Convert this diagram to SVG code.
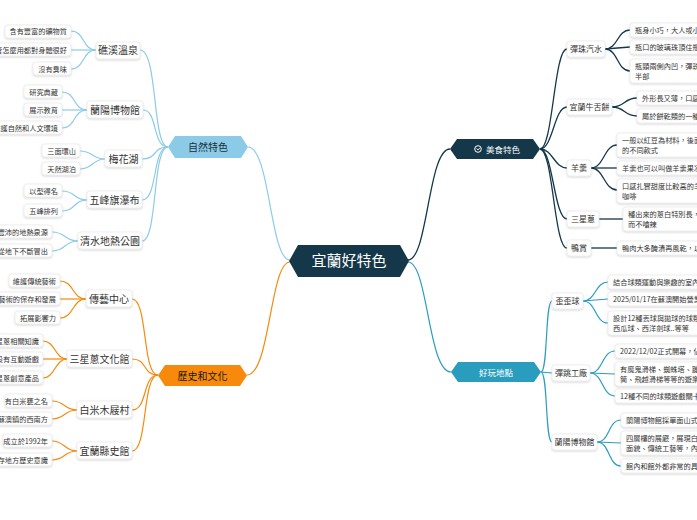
<svg xmlns="http://www.w3.org/2000/svg" width="697" height="520" viewBox="0 0 697 520">
<defs>
<style>
text{font-family:"Noto Sans CJK TC","Noto Sans CJK SC",sans-serif;}
.n{fill:#fff;stroke:#e4e4e4;stroke-width:0.6;filter:url(#sh)}
.l{font-size:7.2px;fill:#333}
.m{font-size:10px;fill:#333}
.s{font-size:8px;fill:#333}
.cb{fill:none;stroke:#8ccbe8;stroke-width:1.2}
.co{fill:none;stroke:#f7890c;stroke-width:1.2}
.cn{fill:none;stroke:#14374a;stroke-width:1.3}
.ct{fill:none;stroke:#2a9dbf;stroke-width:1.2}
</style>
<filter id="sh" x="-20%" y="-30%" width="140%" height="170%"><feDropShadow dx="0" dy="1" stdDeviation="1" flood-opacity="0.18"/></filter>
</defs>
<rect width="697" height="520" fill="#fff"/>
<g id="connectors">
<path class="cb" d="M290,260 C270,260 270,147 248,147"/>
<path class="co" d="M290,262 C270,262 270,375 247,375"/>
<path class="cn" d="M408,260 C428,260 428,149 450,149"/>
<path class="ct" d="M408,262 C428,262 428,372 451,372"/>
<g class="cb">
<path d="M168,147 C152,147 158,50 140,50"/><path d="M168,147 C152,147 158,110 143,110"/><path d="M168,147 C152,147 158,159 142,159"/><path d="M168,147 C152,147 158,200 142,200"/><path d="M168,147 C152,147 158,241 142,241"/>
<path d="M96,50 C82,50 85,31 71,31"/><path d="M96,50 L71,50"/><path d="M96,50 C82,50 85,69 71,69"/>
<path d="M87,110 C73,110 76,92 62,92"/><path d="M87,110 L62,110"/><path d="M87,110 C73,110 76,128 62,128"/>
<path d="M105,159 C92,159 93,151 80,151"/><path d="M105,159 C92,159 93,169 80,169"/>
<path d="M87,200 C73,200 76,191 62,191"/><path d="M87,200 C73,200 76,211 62,211"/>
<path d="M78,241 C64,241 66,232 52,232"/><path d="M78,241 C64,241 66,251 52,251"/>
</g>
<g class="co">
<path d="M158,375 C142,375 148,299 132,299"/><path d="M158,375 C142,375 148,359 132,359"/><path d="M158,375 C142,375 148,410 132,410"/><path d="M158,375 C142,375 148,451 132,451"/>
<path d="M86,299 C72,299 74,281 60,281"/><path d="M86,299 L60,299"/><path d="M86,299 C72,299 74,318 60,318"/>
<path d="M67,359 C55,359 55,341 43,341"/><path d="M67,359 L43,359"/><path d="M67,359 C55,359 55,378 43,378"/>
<path d="M77,410 C64,410 65,401 52,401"/><path d="M77,410 C64,410 65,419 52,419"/>
<path d="M77,451 C64,451 65,441 52,441"/><path d="M77,451 C64,451 65,460 52,460"/>
</g>
<g class="cn">
<path d="M540,149 C553,149 554,49 567,49"/><path d="M540,149 C553,149 554,107 567,107"/><path d="M540,149 C553,149 554,168 567,168"/><path d="M540,149 C553,149 554,219 567,219"/><path d="M540,149 C553,149 554,248 567,248"/>
<path d="M605,49 C618,49 617,30 630,30"/><path d="M605,49 L630,47"/><path d="M605,49 C618,49 617,71 630,71"/>
<path d="M612,107 C625,107 624,98 637,98"/><path d="M612,107 C625,107 624,116 637,116"/>
<path d="M591,168 C604,168 604,145 617,145"/><path d="M591,168 L617,168"/><path d="M591,168 C604,168 604,190 617,190"/>
<path d="M599,219 L623,219"/><path d="M591,248 L617,248"/>
</g>
<g class="ct">
<path d="M541,372 C548,372 545,301 552,301"/><path d="M541,372 L552,373"/><path d="M541,372 C548,372 545,442 552,442"/>
<path d="M583,301 C596,301 595,282 608,282"/><path d="M583,301 L608,299"/><path d="M583,301 C596,301 595,323 608,323"/>
<path d="M590,373 C603,373 602,351 615,351"/><path d="M590,373 L615,374"/><path d="M590,373 C603,373 602,396 615,396"/>
<path d="M597,442 C610,442 608,420 621,420"/><path d="M597,442 L621,443"/><path d="M597,442 C610,442 608,466 621,466"/>
</g>
</g>
<g id="center"><path d="M298,245 L400,245 L409,261 L400,277 L298,277 L289,261 Z" fill="#14374a"/><text x="349" y="266" text-anchor="middle" font-size="15" fill="#fff">宜蘭好特色</text></g>
<g id="nature"><path d="M175,136 L241,136 L248,147 L241,158 L175,158 L168,147 Z" fill="#8ccbe8"/><text x="208" y="151" text-anchor="middle" font-size="10" fill="#1a2f3a">自然特色</text></g>
<g id="history"><path d="M165,365 L240,365 L247,375.5 L240,386 L165,386 L158,375.5 Z" fill="#f7890c"/><text x="202.5" y="379.5" text-anchor="middle" font-size="10" fill="#1a1a1a">歷史和文化</text></g>
<g id="food"><path d="M457,139 L533,139 L540,149 L533,159 L457,159 L450,149 Z" fill="#14374a"/><circle cx="478" cy="149" r="3.3" fill="none" stroke="#fff" stroke-width="1"/><path d="M476.5,148.5 L478,150 L480,147.8" fill="none" stroke="#fff" stroke-width="0.9"/><text x="503" y="152.5" text-anchor="middle" font-size="8.5" fill="#fff">美食特色</text></g>
<g id="fun"><path d="M458,362 L534,362 L541,372 L534,382 L458,382 L451,372 Z" fill="#2a9dbf"/><text x="496" y="375.5" text-anchor="middle" font-size="8.5" fill="#fff">好玩地點</text></g>

<g id="n1"><rect class="n" x="96" y="42" width="44" height="17" rx="3"/><text class="m" x="118" y="54" text-anchor="middle">礁溪溫泉</text></g>
<g id="n2"><rect class="n" x="87" y="101" width="56" height="17" rx="3"/><text class="m" x="115" y="114" text-anchor="middle">蘭陽博物館</text></g>
<g id="n3"><rect class="n" x="105" y="150" width="37" height="17" rx="3"/><text class="m" x="123.5" y="163" text-anchor="middle">梅花湖</text></g>
<g id="n4"><rect class="n" x="87" y="191" width="55" height="17" rx="3"/><text class="m" x="114.5" y="204" text-anchor="middle">五峰旗瀑布</text></g>
<g id="n5"><rect class="n" x="78" y="232" width="64" height="17" rx="3"/><text class="m" x="110" y="245" text-anchor="middle">清水地熱公園</text></g>
<g id="n6"><rect class="n" x="86" y="290" width="46" height="17" rx="3"/><text class="m" x="109" y="303" text-anchor="middle">傳藝中心</text></g>
<g id="n7"><rect class="n" x="67" y="350" width="65" height="17" rx="3"/><text class="m" x="99.5" y="363" text-anchor="middle">三星蔥文化館</text></g>
<g id="n8"><rect class="n" x="77" y="401" width="55" height="17" rx="3"/><text class="m" x="104.5" y="414" text-anchor="middle">白米木屐村</text></g>
<g id="n9"><rect class="n" x="77" y="442" width="55" height="17" rx="3"/><text class="m" x="104.5" y="455" text-anchor="middle">宜蘭縣史館</text></g>

<g id="left-leaves">
<rect class="n" x="5" y="25" width="66" height="13" rx="3"/><text class="l" x="67" y="34" text-anchor="end">含有豐富的礦物質</text>
<rect class="n" x="-10" y="43" width="81" height="13" rx="3"/><text class="l" x="67" y="52.5" text-anchor="end">不管怎麼用都對身體很好</text>
<rect class="n" x="33" y="62" width="38" height="13" rx="3"/><text class="l" x="67" y="71.5" text-anchor="end">沒有臭味</text>
<rect class="n" x="24" y="85" width="38" height="13" rx="3"/><text class="l" x="58" y="94.5" text-anchor="end">研究典藏</text>
<rect class="n" x="24" y="103" width="38" height="13" rx="3"/><text class="l" x="58" y="112.5" text-anchor="end">展示教育</text>
<rect class="n" x="-10" y="121" width="72" height="13" rx="3"/><text class="l" x="58" y="130.5" text-anchor="end">保護自然和人文環境</text>
<rect class="n" x="42" y="144" width="38" height="13" rx="3"/><text class="l" x="76" y="153.5" text-anchor="end">三面環山</text>
<rect class="n" x="42" y="162" width="38" height="13" rx="3"/><text class="l" x="76" y="171.5" text-anchor="end">天然湖泊</text>
<rect class="n" x="24" y="184" width="38" height="13" rx="3"/><text class="l" x="58" y="193.5" text-anchor="end">以型得名</text>
<rect class="n" x="24" y="204" width="38" height="13" rx="3"/><text class="l" x="58" y="213.5" text-anchor="end">五峰排列</text>
<rect class="n" x="-10" y="225" width="62" height="13" rx="3"/><text class="l" x="48" y="234.5" text-anchor="end">豐沛的地熱泉源</text>
<rect class="n" x="-10" y="244" width="62" height="13" rx="3"/><text class="l" x="48" y="253.5" text-anchor="end">溫泉從地下不斷冒出</text>
<rect class="n" x="9" y="274" width="51" height="13" rx="3"/><text class="l" x="56" y="283.5" text-anchor="end">維護傳統藝術</text>
<rect class="n" x="-10" y="292" width="70" height="13" rx="3"/><text class="l" x="56" y="301.5" text-anchor="end">傳統藝術的保存和發展</text>
<rect class="n" x="15" y="311" width="45" height="13" rx="3"/><text class="l" x="56" y="320.5" text-anchor="end">拓展影響力</text>
<rect class="n" x="-10" y="334" width="53" height="13" rx="3"/><text class="l" x="39" y="343.5" text-anchor="end">介紹三星蔥相關知識</text>
<rect class="n" x="-10" y="352" width="53" height="13" rx="3"/><text class="l" x="39" y="361.5" text-anchor="end">設有互動遊戲</text>
<rect class="n" x="-10" y="371" width="53" height="13" rx="3"/><text class="l" x="39" y="380.5" text-anchor="end">三星蔥創意產品</text>
<rect class="n" x="5" y="394" width="47" height="13" rx="3"/><text class="l" x="48" y="403.5" text-anchor="end">有白米甕之名</text>
<rect class="n" x="-10" y="412" width="62" height="13" rx="3"/><text class="l" x="48" y="421.5" text-anchor="end">位於蘇澳鎮的西南方</text>
<rect class="n" x="3" y="434" width="49" height="13" rx="3"/><text class="l" x="48" y="443.5" text-anchor="end">成立於1992年</text>
<rect class="n" x="-10" y="453" width="62" height="13" rx="3"/><text class="l" x="48" y="462.5" text-anchor="end">保存地方歷史意識</text>
</g>

<g id="r1"><rect class="n" x="567" y="41" width="38" height="16" rx="3"/><text class="s" x="586" y="52" text-anchor="middle">彈珠汽水</text></g>
<g id="r2"><rect class="n" x="567" y="99" width="45" height="16" rx="3"/><text class="s" x="589.5" y="110" text-anchor="middle">宜蘭牛舌餅</text></g>
<g id="r3"><rect class="n" x="567" y="160" width="24" height="16" rx="3"/><text class="s" x="579" y="171" text-anchor="middle">羊羹</text></g>
<g id="r4"><rect class="n" x="567" y="211" width="32" height="16" rx="3"/><text class="s" x="583" y="222" text-anchor="middle">三星蔥</text></g>
<g id="r5"><rect class="n" x="567" y="240" width="24" height="16" rx="3"/><text class="s" x="579" y="251" text-anchor="middle">鴨賞</text></g>
<g id="r6"><rect class="n" x="552" y="293" width="31" height="16" rx="3"/><text class="s" x="567.5" y="304" text-anchor="middle">歪歪球</text></g>
<g id="r7"><rect class="n" x="552" y="365" width="38" height="16" rx="3"/><text class="s" x="571" y="376" text-anchor="middle">彈跳工廠</text></g>
<g id="r8"><rect class="n" x="552" y="434" width="45" height="16" rx="3"/><text class="s" x="574.5" y="445" text-anchor="middle">蘭陽博物館</text></g>

<g id="right-leaves">
<rect class="n" x="630" y="23" width="80" height="14" rx="3"/><text class="l" x="635" y="33">瓶身小巧，大人或小孩都適合</text>
<rect class="n" x="630" y="40" width="80" height="14" rx="3"/><text class="l" x="635" y="50">瓶口的玻璃珠頂住瓶口</text>
<rect class="n" x="630" y="59" width="80" height="24" rx="3"/><text class="l" x="635" y="69">瓶頸兩側內凹，彈珠卡在瓶子上</text><text class="l" x="635" y="79">半部</text>
<rect class="n" x="637" y="91" width="80" height="14" rx="3"/><text class="l" x="642" y="101">外形長又薄，口感酥脆</text>
<rect class="n" x="637" y="109" width="80" height="14" rx="3"/><text class="l" x="642" y="119">屬於餅乾類的一種點心</text>
<rect class="n" x="617" y="133" width="90" height="24" rx="3"/><text class="l" x="622" y="143">一般以紅豆為材料，後面發展出</text><text class="l" x="622" y="153">的不同款式</text>
<rect class="n" x="617" y="161" width="90" height="14" rx="3"/><text class="l" x="622" y="171">羊羹也可以叫做羊羹果凍</text>
<rect class="n" x="617" y="179" width="90" height="24" rx="3"/><text class="l" x="622" y="189">口感扎實甜度比較高的羊羹配</text><text class="l" x="622" y="199">咖啡</text>
<rect class="n" x="623" y="207" width="80" height="24" rx="3"/><text class="l" x="628" y="217">種出來的蔥白特別長，吃起來甜</text><text class="l" x="628" y="227">而不嗆辣</text>
<rect class="n" x="617" y="241" width="90" height="14" rx="3"/><text class="l" x="622" y="251">鴨肉大多醃漬再風乾，以甘蔗煙燻</text>
<rect class="n" x="608" y="275" width="95" height="14" rx="3"/><text class="l" x="613" y="285">結合球類運動與樂趣的室內遊樂場</text>
<rect class="n" x="608" y="292" width="95" height="14" rx="3"/><text class="l" x="613" y="302">2025/01/17在蘇澳開始營業</text>
<rect class="n" x="608" y="311" width="95" height="24" rx="3"/><text class="l" x="613" y="321">設計12種丟球與拋球的球類關卡，</text><text class="l" x="613" y="331">西瓜球、西洋劍球..等等</text>
<rect class="n" x="615" y="344" width="90" height="14" rx="3"/><text class="l" x="620" y="354">2022/12/02正式開幕，佔地</text>
<rect class="n" x="615" y="362" width="90" height="24" rx="3"/><text class="l" x="620" y="372">有魔鬼滑梯、蜘蛛塔、蹦床、彈</text><text class="l" x="620" y="382">筒、飛越滑梯等等的遊樂設施</text>
<rect class="n" x="615" y="389" width="90" height="14" rx="3"/><text class="l" x="620" y="399">12種不同的球類遊戲關卡</text>
<rect class="n" x="621" y="413" width="90" height="14" rx="3"/><text class="l" x="626" y="423">蘭陽博物館採單面山式建築</text>
<rect class="n" x="621" y="431" width="90" height="24" rx="3"/><text class="l" x="626" y="441">四層樓的展廳，展現白然生態</text><text class="l" x="626" y="451">面貌、傳統工藝等，內容豐富</text>
<rect class="n" x="621" y="459" width="90" height="14" rx="3"/><text class="l" x="626" y="469">館內和館外都非常的具有特色</text>
</g>
</svg>
